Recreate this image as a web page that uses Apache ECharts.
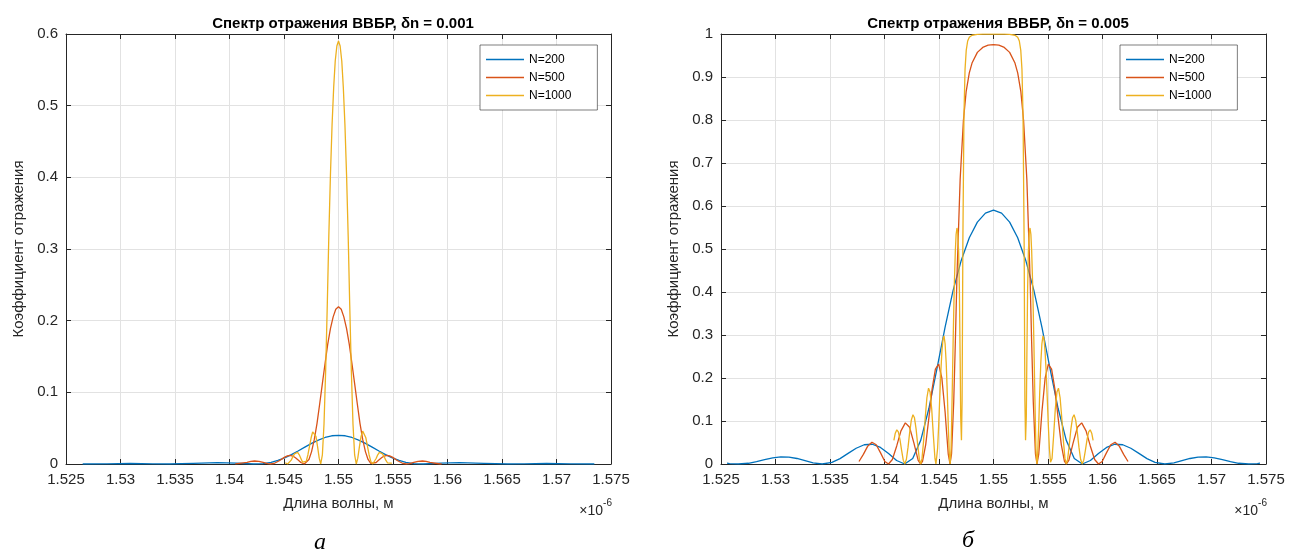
<!DOCTYPE html>
<html>
<head>
<meta charset="utf-8">
<script src="https://cdn.jsdelivr.net/npm/echarts@6/dist/echarts.min.js"></script>
<style>
html, body { margin: 0; background: #fff; }
#main { width: 1289px; height: 558px; }
</style>
</head>
<body>
<div id="main"></div>
<script>
// длина волны (x1e-6 м) и коэффициент отражения, снято с картинки
// левый график, dn = 0.001
var leftN200 = [
  [1.52653,0],[1.52673,0],[1.52876,0.0003],[1.53091,0.0007],[1.53296,0.0003],[1.53449,0],
  [1.53666,0.0009],[1.53888,0.0019],[1.54061,0.0011],[1.54222,0],[1.54308,0.0006],[1.54382,0.0024],
  [1.54444,0.0050],[1.54506,0.0086],[1.54568,0.0131],[1.54629,0.0182],[1.54691,0.0235],[1.54753,0.0288],
  [1.54815,0.0334],[1.54877,0.0370],[1.54938,0.0394],[1.55,0.0400],
  [1.55062,0.0394],[1.55123,0.0370],[1.55185,0.0334],[1.55247,0.0288],[1.55309,0.0235],[1.55371,0.0182],
  [1.55432,0.0131],[1.55494,0.0086],[1.55556,0.0050],[1.55618,0.0024],[1.55692,0.0006],[1.55778,0],
  [1.55939,0.0011],[1.56112,0.0019],[1.56334,0.0009],[1.56551,0],[1.56704,0.0003],[1.56909,0.0007],
  [1.57124,0.0003],[1.57327,0],[1.57347,0]
];
var leftN500 = [
  [1.54053,0.0001],[1.54068,0],[1.54161,0.0023],[1.54196,0.0036],[1.54230,0.0042],[1.54270,0.0037],
  [1.54309,0.0022],[1.54349,0.0005],[1.54378,0],[1.54408,0.0007],[1.54457,0.0045],[1.54482,0.0071],
  [1.54507,0.0096],[1.54531,0.0114],[1.54556,0.0119],[1.54581,0.0111],[1.54605,0.0087],[1.54630,0.0055],
  [1.54655,0.0021],[1.54686,0],[1.54704,0.0010],[1.54729,0.0063],[1.54753,0.0173],[1.54778,0.0343],
  [1.54803,0.0568],[1.54827,0.0834],[1.54852,0.1121],[1.54877,0.1406],[1.54901,0.1668],[1.54926,0.1889],
  [1.54951,0.2053],[1.54975,0.2159],[1.55,0.2194],
  [1.55025,0.2159],[1.55049,0.2053],[1.55074,0.1889],[1.55099,0.1668],[1.55123,0.1406],[1.55148,0.1121],
  [1.55173,0.0834],[1.55197,0.0568],[1.55222,0.0343],[1.55247,0.0173],[1.55271,0.0063],[1.55296,0.0010],
  [1.55314,0],[1.55345,0.0021],[1.55370,0.0055],[1.55395,0.0087],[1.55419,0.0111],[1.55444,0.0119],
  [1.55469,0.0114],[1.55493,0.0096],[1.55518,0.0071],[1.55543,0.0045],[1.55592,0.0007],[1.55622,0],
  [1.55651,0.0005],[1.55691,0.0022],[1.55730,0.0037],[1.55770,0.0042],[1.55804,0.0036],[1.55839,0.0023],
  [1.55932,0],[1.55947,0.0001]
];
var leftN1000 = [
  [1.54512,0.0018],[1.54517,0.0011],[1.54533,0],[1.54551,0.0017],[1.54566,0.0054],[1.54581,0.0100],
  [1.54596,0.0142],[1.54611,0.0165],[1.54625,0.0161],[1.54640,0.0128],[1.54655,0.0077],[1.54670,0.0026],
  [1.54686,0],[1.54704,0.0038],[1.54719,0.0126],[1.54734,0.0246],[1.54749,0.0366],[1.54763,0.0448],
  [1.54778,0.0459],[1.54793,0.0386],[1.54808,0.0242],[1.54823,0.0081],[1.54837,0],[1.54852,0.0126],
  [1.54867,0.0555],[1.54882,0.1290],[1.54897,0.2214],[1.54911,0.3171],[1.54926,0.4032],[1.54941,0.4734],
  [1.54956,0.5261],[1.54970,0.5624],[1.54985,0.5833],[1.55,0.5902],
  [1.55015,0.5833],[1.55030,0.5624],[1.55044,0.5261],[1.55059,0.4734],[1.55074,0.4032],[1.55089,0.3171],
  [1.55103,0.2214],[1.55118,0.1290],[1.55133,0.0555],[1.55148,0.0126],[1.55163,0],[1.55177,0.0081],
  [1.55192,0.0242],[1.55207,0.0386],[1.55222,0.0459],[1.55237,0.0448],[1.55251,0.0366],[1.55266,0.0246],
  [1.55281,0.0126],[1.55296,0.0038],[1.55314,0],[1.55330,0.0026],[1.55345,0.0077],[1.55360,0.0128],
  [1.55375,0.0161],[1.55389,0.0165],[1.55404,0.0142],[1.55419,0.0100],[1.55434,0.0054],[1.55449,0.0017],
  [1.55467,0],[1.55483,0.0011],[1.55488,0.0018]
];

// правый график, dn = 0.005
var rightN200 = [
  [1.52555,0.0018],[1.52579,0.0011],[1.52659,0],[1.52752,0.0017],[1.52826,0.0054],[1.52900,0.0100],
  [1.52975,0.0142],[1.53049,0.0165],[1.53123,0.0161],[1.53197,0.0128],[1.53271,0.0077],[1.53345,0.0026],
  [1.53428,0],[1.53518,0.0038],[1.53592,0.0126],[1.53666,0.0246],[1.53740,0.0366],[1.53814,0.0448],
  [1.53888,0.0459],[1.53963,0.0386],[1.54037,0.0242],[1.54111,0.0081],[1.54185,0],[1.54259,0.0126],
  [1.54333,0.0555],[1.54407,0.1290],[1.54481,0.2214],[1.54555,0.3171],[1.54629,0.4032],[1.54704,0.4734],
  [1.54778,0.5261],[1.54852,0.5624],[1.54926,0.5833],[1.55,0.5902],
  [1.55074,0.5833],[1.55148,0.5624],[1.55222,0.5261],[1.55296,0.4734],[1.55371,0.4032],[1.55445,0.3171],
  [1.55519,0.2214],[1.55593,0.1290],[1.55667,0.0555],[1.55741,0.0126],[1.55815,0],[1.55889,0.0081],
  [1.55963,0.0242],[1.56037,0.0386],[1.56112,0.0459],[1.56186,0.0448],[1.56260,0.0366],[1.56334,0.0246],
  [1.56408,0.0126],[1.56482,0.0038],[1.56572,0],[1.56655,0.0026],[1.56729,0.0077],[1.56803,0.0128],
  [1.56877,0.0161],[1.56951,0.0165],[1.57025,0.0142],[1.57100,0.0100],[1.57174,0.0054],[1.57248,0.0017],
  [1.57341,0],[1.57421,0.0011],[1.57445,0.0018]
];
var rightN500 = [
  [1.53766,0.0058],[1.53806,0.0225],[1.53845,0.0411],[1.53885,0.0505],[1.53924,0.0447],[1.53964,0.0259],
  [1.54003,0.0059],[1.54037,0],[1.54072,0.0104],[1.54112,0.0420],[1.54151,0.0771],[1.54191,0.0957],
  [1.54230,0.0854],[1.54270,0.0487],[1.54309,0.0085],[1.54331,0],[1.54349,0.0062],[1.54378,0.0452],
  [1.54408,0.1091],[1.54437,0.1748],[1.54467,0.2208],[1.54497,0.2325],[1.54526,0.2002],[1.54556,0.1208],
  [1.54571,0.0693],[1.54585,0.0230],[1.54601,0],[1.54615,0.0235],[1.54635,0.1442],[1.54650,0.2839],
  [1.54664,0.4295],[1.54694,0.6618],[1.54724,0.7987],[1.54749,0.8658],[1.54778,0.9095],[1.54803,0.9324],
  [1.54852,0.9573],[1.54901,0.9687],[1.54951,0.9739],[1.55,0.9754],
  [1.55049,0.9739],[1.55099,0.9687],[1.55148,0.9573],[1.55197,0.9324],[1.55222,0.9095],[1.55251,0.8658],
  [1.55276,0.7987],[1.55306,0.6618],[1.55336,0.4295],[1.55350,0.2839],[1.55365,0.1442],[1.55385,0.0235],
  [1.55399,0],[1.55415,0.0230],[1.55429,0.0693],[1.55444,0.1208],[1.55474,0.2002],[1.55503,0.2325],
  [1.55533,0.2208],[1.55563,0.1748],[1.55592,0.1091],[1.55622,0.0452],[1.55651,0.0062],[1.55669,0],
  [1.55691,0.0085],[1.55730,0.0487],[1.55770,0.0854],[1.55809,0.0957],[1.55849,0.0771],[1.55888,0.0420],
  [1.55928,0.0104],[1.55963,0],[1.55997,0.0059],[1.56036,0.0259],[1.56076,0.0447],[1.56115,0.0505],
  [1.56155,0.0411],[1.56194,0.0225],[1.56234,0.0058]
];
var rightN1000 = [
  [1.54086,0.0548],[1.54098,0.0707],[1.54113,0.0796],[1.54127,0.0747],[1.54142,0.0568],[1.54157,0.0316],
  [1.54172,0.0090],[1.54186,0],[1.54201,0.0110],[1.54216,0.0391],[1.54231,0.0736],[1.54246,0.1019],
  [1.54261,0.1146],[1.54275,0.1074],[1.54290,0.0812],[1.54305,0.0437],[1.54320,0.0106],[1.54332,0],
  [1.54344,0.0124],[1.54359,0.0543],[1.54374,0.1086],[1.54389,0.1541],[1.54404,0.1762],[1.54418,0.1677],
  [1.54433,0.1282],[1.54448,0.0675],[1.54463,0.0129],[1.54472,0],[1.54477,0.0043],[1.54487,0.0356],
  [1.54497,0.0899],[1.54507,0.1548],[1.54517,0.2155],[1.54527,0.2630],[1.54537,0.2914],[1.54546,0.2978],
  [1.54556,0.2797],[1.54566,0.2354],[1.54576,0.1663],[1.54586,0.0828],[1.54596,0.0144],[1.54602,0],
  [1.54611,0.0360],[1.54620,0.1498],[1.54630,0.2903],[1.54640,0.4119],[1.54650,0.4965],[1.54657,0.5340],
  [1.54665,0.5489],[1.54672,0.5385],[1.54680,0.4950],[1.54687,0.4067],[1.54694,0.2468],[1.54699,0.1100],
  [1.54706,0.0550],[1.54712,0.1473],[1.54719,0.5189],[1.54729,0.8108],[1.54739,0.9184],[1.54750,0.9627],
  [1.54763,0.9837],[1.54778,0.9922],[1.54803,0.9971],[1.54852,0.9993],[1.54901,0.9997],[1.54951,0.9998],
  [1.55,0.9999],
  [1.55049,0.9998],[1.55099,0.9997],[1.55148,0.9993],[1.55197,0.9971],[1.55222,0.9922],[1.55237,0.9837],
  [1.55250,0.9627],[1.55261,0.9184],[1.55271,0.8108],[1.55281,0.5189],[1.55288,0.1473],[1.55294,0.0550],
  [1.55301,0.1100],[1.55306,0.2468],[1.55313,0.4067],[1.55320,0.4950],[1.55328,0.5385],[1.55335,0.5489],
  [1.55343,0.5340],[1.55350,0.4965],[1.55360,0.4119],[1.55370,0.2903],[1.55380,0.1498],[1.55389,0.0360],
  [1.55398,0],[1.55404,0.0144],[1.55414,0.0828],[1.55424,0.1663],[1.55434,0.2354],[1.55444,0.2797],
  [1.55454,0.2978],[1.55463,0.2914],[1.55473,0.2630],[1.55483,0.2155],[1.55493,0.1548],[1.55503,0.0899],
  [1.55513,0.0356],[1.55523,0.0043],[1.55528,0],[1.55537,0.0129],[1.55552,0.0675],[1.55567,0.1282],
  [1.55582,0.1677],[1.55596,0.1762],[1.55611,0.1541],[1.55626,0.1086],[1.55641,0.0543],[1.55656,0.0124],
  [1.55668,0],[1.55680,0.0106],[1.55695,0.0437],[1.55710,0.0812],[1.55725,0.1074],[1.55739,0.1146],
  [1.55754,0.1019],[1.55769,0.0736],[1.55784,0.0391],[1.55799,0.0110],[1.55814,0],[1.55828,0.0090],
  [1.55843,0.0316],[1.55858,0.0568],[1.55873,0.0747],[1.55887,0.0796],[1.55902,0.0707],[1.55914,0.0548]
];

var seriesNames = ['N=200', 'N=500', 'N=1000'];
var colors = ['#0072BD', '#D95319', '#EDB120'];
var titles = ['Спектр отражения ВВБР, δn = 0.001', 'Спектр отражения ВВБР, δn = 0.005'];
var xRange = [1.525, 1.575, 0.005];
var yMax = [0.6, 1];

var FONT = '"Liberation Sans", Arial, sans-serif';
var axisColor = '#262626';
var grids = [
  { left: 66, top: 34, width: 545, height: 430 },
  { left: 721, top: 34, width: 545, height: 430 }
];

function fmt(v) { return String(+v.toFixed(4)); }

function xAx(g, pos) {
  var main = pos === 'bottom';
  return {
    type: 'value', gridIndex: g, position: pos,
    min: xRange[0], max: xRange[1], interval: xRange[2],
    axisLine: { show: true, onZero: false, lineStyle: { color: axisColor, width: 1 } },
    axisTick: { show: true, inside: true, length: 5, lineStyle: { color: axisColor } },
    axisLabel: { show: main, formatter: fmt, fontSize: 15, color: axisColor, fontFamily: FONT, margin: 8 },
    splitLine: { show: main, lineStyle: { color: '#e2e2e2', width: 1 } },
    name: main ? 'Длина волны, м' : '', nameLocation: 'middle', nameGap: 32,
    nameTextStyle: { fontSize: 15, color: axisColor, fontFamily: FONT }
  };
}

function yAx(g, pos) {
  var main = pos === 'left';
  return {
    type: 'value', gridIndex: g, position: pos,
    min: 0, max: yMax[g], interval: 0.1,
    axisLine: { show: true, onZero: false, lineStyle: { color: axisColor, width: 1 } },
    axisTick: { show: true, inside: true, length: 5, lineStyle: { color: axisColor } },
    axisLabel: { show: main, formatter: fmt, fontSize: 15, color: axisColor, fontFamily: FONT, margin: 8 },
    splitLine: { show: main, lineStyle: { color: '#e2e2e2', width: 1 } },
    name: main ? 'Коэффициент отражения' : '', nameLocation: 'middle', nameGap: 40, nameRotate: 90,
    nameTextStyle: { fontSize: 15, color: axisColor, fontFamily: FONT }
  };
}

function line(name, data, i, g) {
  return {
    name: name, type: 'line', data: data, xAxisIndex: g * 2, yAxisIndex: g * 2,
    showSymbol: false, symbol: 'none', smooth: false, clip: true,
    lineStyle: { color: colors[i], width: 1.3 }, itemStyle: { color: colors[i] }
  };
}

function legend(left) {
  return {
    data: seriesNames, orient: 'vertical', left: left, top: 45,
    icon: 'rect', itemWidth: 38, itemHeight: 1.5, itemGap: 3,
    backgroundColor: '#fff', borderColor: axisColor, borderWidth: 0.6,
    padding: [7, 26, 7, 6],
    textStyle: { fontSize: 12, color: '#000', fontFamily: FONT, lineHeight: 15 }
  };
}

function expo(right) {
  return {
    type: 'text', right: right, top: 498, silent: true,
    style: {
      text: '{a|×10}{b|-6}', fill: axisColor, fontFamily: FONT,
      rich: {
        a: { fontSize: 14, fontFamily: FONT, fill: axisColor, verticalAlign: 'bottom', lineHeight: 20 },
        b: { fontSize: 10, fontFamily: FONT, fill: axisColor, verticalAlign: 'top', lineHeight: 20 }
      }
    }
  };
}

var chart = echarts.init(document.getElementById('main'));
chart.setOption({
  backgroundColor: '#fff',
  animation: false,
  title: [
    { text: titles[0], left: 338, top: 11, textAlign: 'center',
      textStyle: { fontSize: 15, fontWeight: 'bold', color: '#000', fontFamily: FONT } },
    { text: titles[1], left: 993, top: 11, textAlign: 'center',
      textStyle: { fontSize: 15, fontWeight: 'bold', color: '#000', fontFamily: FONT } }
  ],
  grid: grids,
  xAxis: [xAx(0, 'bottom'), xAx(0, 'top'), xAx(1, 'bottom'), xAx(1, 'top')],
  yAxis: [yAx(0, 'left'), yAx(0, 'right'), yAx(1, 'left'), yAx(1, 'right')],
  legend: [legend(480), legend(1120)],
  series: [
    line(seriesNames[0], leftN200, 0, 0),
    line(seriesNames[1], leftN500, 1, 0),
    line(seriesNames[2], leftN1000, 2, 0),
    line(seriesNames[0], rightN200, 0, 1),
    line(seriesNames[1], rightN500, 1, 1),
    line(seriesNames[2], rightN1000, 2, 1)
  ],
  graphic: [
    expo(1289 - 612),
    expo(1289 - 1267),
    { type: 'text', left: 314, top: 531, silent: true,
      style: { text: 'а', fontSize: 24, fontStyle: 'italic', fontFamily: '"Liberation Serif", "DejaVu Serif", serif', fill: '#000' } },
    { type: 'text', left: 962, top: 529, silent: true,
      style: { text: 'б', fontSize: 24, fontStyle: 'italic', fontFamily: '"Liberation Serif", "DejaVu Serif", serif', fill: '#000' } }
  ]
});
</script>
</body>
</html>
